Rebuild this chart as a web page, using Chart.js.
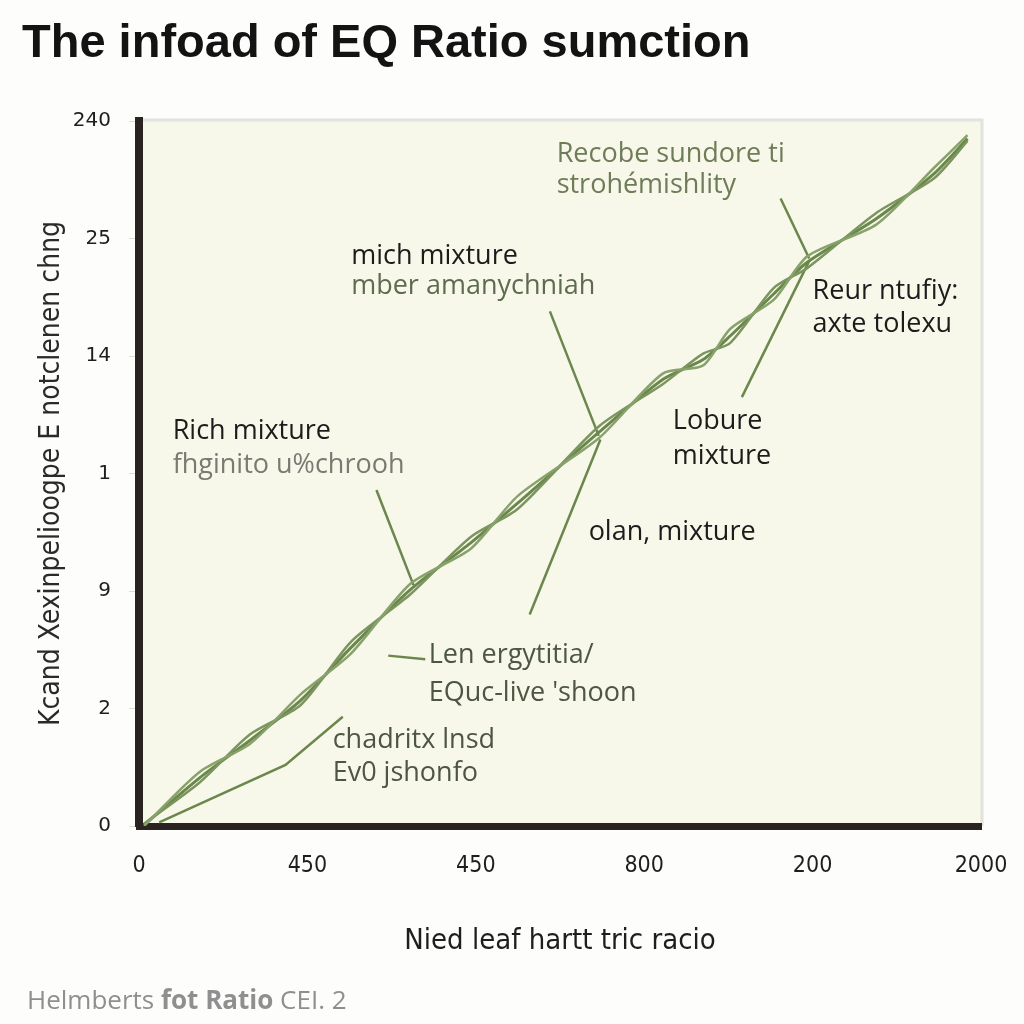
<!DOCTYPE html>
<html>
<head>
<meta charset="utf-8">
<script src="https://cdn.jsdelivr.net/npm/chart.js@4.4.1/dist/chart.umd.min.js"></script>
<style>
  html, body { margin: 0; padding: 0; background: #fdfdfc; }
  #wrap { width: 1024px; height: 1024px; }
</style>
</head>
<body>
<div id="wrap"><canvas id="eqChart" width="1024" height="1024"></canvas></div>
<script>
// tick labels (as printed in the figure)
const xTickLabels = ['0', '450', '450', '800', '200', '2000'];
const yTickLabels = ['0', '2', '9', '1', '14', '25', '240'];

// main curve, three twisted strands sharing the same x positions
const strandX = [0.03, 0.36, 0.66, 0.96, 1.26, 1.61, 1.97, 2.25, 2.73, 3.11, 3.35, 3.51, 3.77, 3.97, 4.38, 4.72, 4.92];
const strandA = [0.01, 0.41, 0.73, 1.07, 1.52, 2.01, 2.41, 2.75, 3.35, 3.80, 3.97, 4.17, 4.53, 4.80, 5.17, 5.55, 5.85];
const strandB = [0.00, 0.46, 0.70, 1.12, 1.47, 2.06, 2.36, 2.81, 3.30, 3.85, 3.92, 4.23, 4.48, 4.85, 5.12, 5.60, 5.88];
const strandC = [0.02, 0.37, 0.78, 1.03, 1.57, 1.97, 2.46, 2.70, 3.40, 3.76, 4.02, 4.11, 4.58, 4.75, 5.22, 5.51, 5.83];

// pointer lines from the labels to the curve
const leadRecobeX = [3.81, 3.98];
const leadRecobeY = [5.34, 4.83];
const leadMberX = [2.44, 2.73];
const leadMberY = [4.38, 3.32];
const leadRichX = [1.41, 1.63];
const leadRichY = [2.86, 2.05];
const leadOlanX = [2.74, 2.32];
const leadOlanY = [3.29, 1.80];
const leadLobureX = [3.98, 3.58];
const leadLobureY = [4.81, 3.65];
const leadLenX = [1.48, 1.70];
const leadLenY = [1.45, 1.42];
const leadChadX = [0.12, 0.87, 1.21];
const leadChadY = [0.03, 0.52, 0.93];

const notes = [
    { text: 'Recobe sundore ti', x: 2.48, y: 5.72, color: '#6e7c58' },
    { text: 'strohémishlity', x: 2.48, y: 5.45, color: '#6e7c58' },
    { text: 'mich mixture', x: 1.26, y: 4.85, color: '#1c1c1c' },
    { text: 'mber amanychniah', x: 1.26, y: 4.59, color: '#5f6b50' },
    { text: 'Reur ntufiy:', x: 4.00, y: 4.55, color: '#1c1c1c' },
    { text: 'axte tolexu', x: 4.00, y: 4.27, color: '#1c1c1c' },
    { text: 'Rich mixture', x: 0.20, y: 3.36, color: '#1c1c1c' },
    { text: 'fhginito u%chrooh', x: 0.20, y: 3.07, color: '#7a7a72' },
    { text: 'Lobure', x: 3.17, y: 3.44, color: '#1c1c1c' },
    { text: 'mixture', x: 3.17, y: 3.15, color: '#1c1c1c' },
    { text: 'olan, mixture', x: 2.67, y: 2.50, color: '#1c1c1c' },
    { text: 'Len ergytitia/', x: 1.72, y: 1.45, color: '#4d5643' },
    { text: "EQuc-live 'shoon", x: 1.72, y: 1.13, color: '#4d5643' },
    { text: 'chadritx lnsd', x: 1.15, y: 0.73, color: '#4d5643' },
    { text: 'Ev0 jshonfo', x: 1.15, y: 0.45, color: '#4d5643' }
];

const zip = (xs, ys) => xs.map((x, i) => ({ x: x, y: ys[i] }));

const NARROW = '"Liberation Sans Narrow", "DejaVu Sans Condensed", "Liberation Sans", sans-serif';

function strand(data, color, width) {
    return { data: data, showLine: true, borderColor: color, borderWidth: width,
             pointRadius: 0, tension: 0.25, fill: false };
}
function leader(data) {
    return { data: data, showLine: true, borderColor: '#6b874c', borderWidth: 2.5,
             pointRadius: 0, tension: 0, fill: false };
}

const plotBackground = {
    id: 'plotBackground',
    beforeDraw(chart) {
        const { ctx, chartArea: a } = chart;
        ctx.save();
        ctx.fillStyle = '#f8f8ea';
        ctx.fillRect(a.left, a.top, a.right - a.left, a.bottom - a.top);
        ctx.strokeStyle = '#e2e2de';
        ctx.lineWidth = 3;
        ctx.beginPath();
        ctx.moveTo(a.left, a.top - 1);
        ctx.lineTo(a.right + 1, a.top - 1);
        ctx.lineTo(a.right + 1, a.bottom);
        ctx.stroke();
        ctx.restore();
    }
};

const noteLabels = {
    id: 'noteLabels',
    afterDatasetsDraw(chart) {
        const { ctx, scales } = chart;
        ctx.save();
        ctx.font = '27px "Open Sans", "Noto Sans", sans-serif';
        ctx.textAlign = 'left';
        ctx.textBaseline = 'middle';
        notes.forEach(n => {
            ctx.fillStyle = n.color;
            ctx.fillText(n.text, scales.x.getPixelForValue(n.x), scales.y.getPixelForValue(n.y));
        });
        ctx.restore();
    }
};

const footerNote = {
    id: 'footerNote',
    afterDraw(chart) {
        const ctx = chart.ctx;
        const parts = [
            ['Helmberts ', 'normal'],
            ['fot Ratio ', 'bold'],
            ['CEI. 2', 'normal']
        ];
        ctx.save();
        ctx.fillStyle = '#8f8f8f';
        ctx.textBaseline = 'middle';
        let x = 27;
        parts.forEach(([t, w]) => {
            ctx.font = `${w} 26px "Open Sans", "Noto Sans", sans-serif`;
            ctx.fillText(t, x, 1002);
            x += ctx.measureText(t).width;
        });
        ctx.restore();
    }
};

new Chart(document.getElementById('eqChart'), {
    type: 'scatter',
    data: {
        datasets: [
            strand(zip(strandX, strandB), '#88a26c', 2.5),
            strand(zip(strandX, strandC), '#7a955d', 2.5),
            strand(zip(strandX, strandA), '#6b874c', 3),
            leader(zip(leadRecobeX, leadRecobeY)),
            leader(zip(leadMberX, leadMberY)),
            leader(zip(leadRichX, leadRichY)),
            leader(zip(leadOlanX, leadOlanY)),
            leader(zip(leadLobureX, leadLobureY)),
            leader(zip(leadLenX, leadLenY)),
            leader(zip(leadChadX, leadChadY))
        ]
    },
    options: {
        responsive: false,
        animation: false,
        layout: { padding: { left: 22, right: 43, top: 0, bottom: 0 } },
        plugins: {
            legend: { display: false },
            tooltip: { enabled: false },
            title: {
                display: true,
                text: 'The infoad of EQ Ratio sumction',
                align: 'start',
                color: '#131313',
                font: { family: '"Liberation Sans", Arial, sans-serif', size: 47, weight: 'bold', lineHeight: 1.2 },
                padding: { top: 16, bottom: 48.6 }
            }
        },
        scales: {
            x: {
                type: 'linear',
                min: 0, max: 5,
                afterFit: (scale) => {
                    scale.height = 198;
                    scale.paddingLeft = 0;
                    scale.paddingRight = 0;
                },
                border: { display: true, color: '#2b2222', width: 7 },
                grid: { display: false, drawTicks: false },
                ticks: {
                    stepSize: 1,
                    padding: 26,
                    color: '#1e1e1e',
                    font: { family: NARROW, size: 23 },
                    callback: (v) => xTickLabels[v]
                },
                title: {
                    display: true,
                    text: 'Nied leaf hartt tric racio',
                    color: '#1e1e1e',
                    font: { family: NARROW, size: 29 },
                    padding: { top: 0, bottom: 65 }
                }
            },
            y: {
                type: 'linear',
                min: 0, max: 6,
                afterFit: (scale) => { scale.width = 117; },
                border: { display: true, color: '#2b2222', width: 8 },
                grid: { drawOnChartArea: false, drawTicks: true, tickLength: 10, color: '#dcdcd8' },
                ticks: {
                    stepSize: 1,
                    padding: 18,
                    color: '#1e1e1e',
                    font: { family: '"DejaVu Sans", sans-serif', size: 20 },
                    callback: (v) => yTickLabels[v]
                },
                title: {
                    display: true,
                    text: 'Kcand Xexinpelioogpe E notclenen chng',
                    color: '#2a2a2a',
                    font: { family: NARROW, size: 28 },
                    padding: { top: 13, bottom: 0 }
                }
            }
        }
    },
    plugins: [plotBackground, noteLabels, footerNote]
});
</script>
</body>
</html>
